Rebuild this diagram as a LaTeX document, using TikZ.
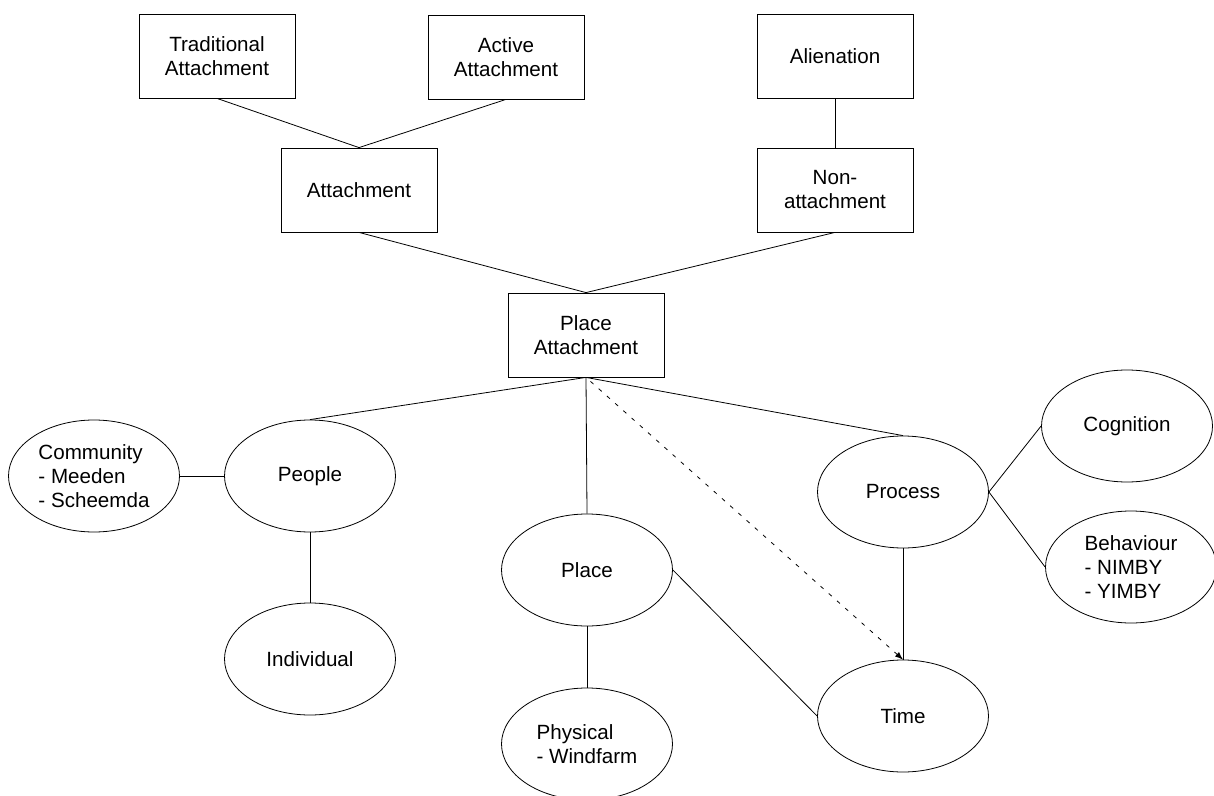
\documentclass[tikz,border=0pt]{standalone}
\usepackage{fontspec}
\setmainfont{Liberation Sans}
\usetikzlibrary{shapes.geometric}
\begin{document}
\begin{tikzpicture}[x=0.5pt, y=-0.5pt, every node/.append style={text=black, font=\fontsize{10.3}{12}\selectfont},
	box/.style={draw, rectangle, minimum width=78pt, minimum height=42pt, inner sep=0pt, align=center},
	oval/.style={draw, ellipse, minimum width=85.5pt, minimum height=56pt, inner sep=0pt, align=left}]
	\useasboundingbox (0,0) rectangle (1214,796);
	
	\node [box] (trad) at (217,56) {Traditional\\Attachment};
	\node [box] (active) at (506,57) {Active\\Attachment};
	\node [box] (alien) at (835,56) {Alienation};
	\node [box] (attach) at (359,190) {Attachment};
	\node [box] (nonattach) at (835,190) {Non-\\attachment};
	\node [box] (placeatt) at (586,335) {Place\\Attachment};
	
	\node [oval] (community) at (94,476) {Community\\- Meeden\\- Scheemda};
	\node [oval] (people) at (310,476) {People};
	\node [oval] (individual) at (310,659) {Individual};
	\node [oval] (place) at (587,570) {Place};
	\node [oval] (physical) at (587,744) {Physical\\- Windfarm};
	\node [oval] (process) at (903,492) {Process};
	\node [oval] (cognition) at (1127,426) {Cognition};
	\node [oval] (behaviour) at (1131,567) {Behaviour\\- NIMBY\\- YIMBY};
	\node [oval] (time) at (903,716) {Time};
	
	\draw (trad.south) -- (attach.north);
	\draw (active.south) -- (attach.north);
	\draw (alien.south) -- (nonattach.north);
	\draw (attach.south) -- (placeatt.north);
	\draw (nonattach.south) -- (placeatt.north);
	
	\draw (placeatt.south) -- (people.north);
	\draw (placeatt.south) -- (place.north);
	\draw (placeatt.south) -- (process.north);
	\draw[-latex, dash pattern=on 2pt off 3.5pt, dash phase=-3pt] (placeatt.south) -- (time.north);
	
	\draw (community.east) -- (people.west);
	\draw (people.south) -- (individual.north);
	\draw (place.south) -- (physical.north);
	\draw (place.east) -- (time.west);
	\draw (process.south) -- (time.north);
	\draw (process.east) -- (cognition.west);
	\draw (process.east) -- (behaviour.west);
\end{tikzpicture}
\end{document}
